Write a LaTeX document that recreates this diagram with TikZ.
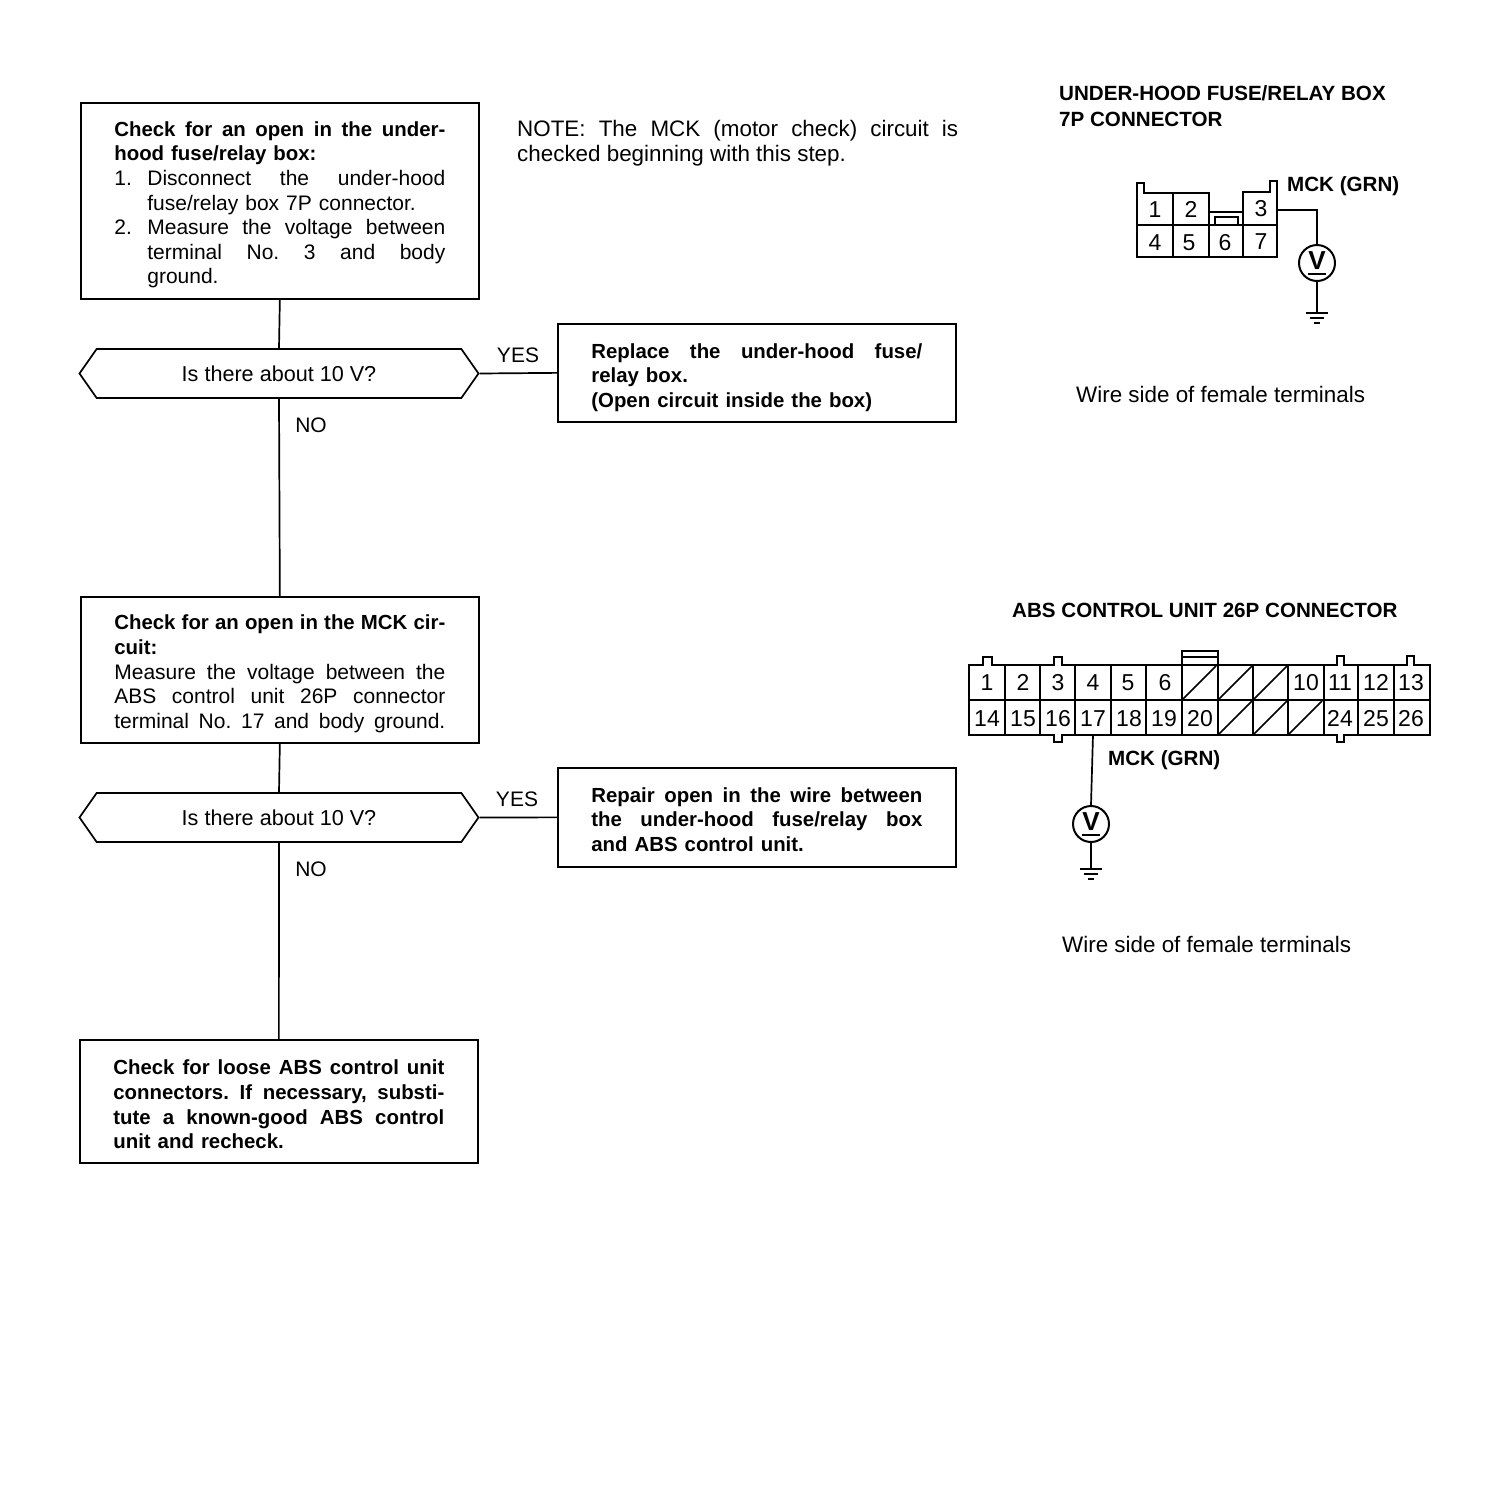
\documentclass[tikz,border=0pt]{standalone}
\usepackage{fontspec}
\setmainfont{Liberation Sans}
\usetikzlibrary{shapes.symbols}
\frenchspacing
\newcommand{\fs}{\fontsize{21}{24.6}\selectfont}
\newcommand{\bfs}{\fontsize{20.4}{24.6}\selectfont\bfseries}
\newcommand{\jl}[2]{\makebox[#1pt][s]{\spaceskip=0pt\xspaceskip=0pt\relax #2}}
\newcommand{\tp}[1]{\rule{0pt}{#1pt}}
\tikzset{
  ln/.style={line width=1.7pt},
  box/.style={draw,line width=1.7pt,anchor=north west,inner xsep=33.5pt,inner ysep=0pt,text width=331pt,align=left,font=\fs},
  dec/.style={draw,line width=1.7pt,signal,signal to=east and west,signal pointer angle=110,minimum width=399pt,minimum height=49pt,inner sep=0pt,font=\fontsize{21.6}{24.6}\selectfont},
  lab/.style={font=\fs,inner sep=0pt},
  wlab/.style={font=\fontsize{22.4}{24.6}\selectfont,inner sep=0pt},
  blab/.style={font=\fontsize{20.6}{24.6}\selectfont\bfseries,inner sep=0pt},
  pin/.style={font=\fontsize{23}{24}\selectfont,inner sep=0pt,text height=16pt,text depth=0pt},
  vm/.style={circle,draw,line width=2pt,minimum size=36pt,inner sep=0pt},
  vt/.style={font=\fontsize{26}{26}\selectfont\bfseries,inner sep=0pt},
  wire/.style={line width=1.7pt},
  cn/.style={line width=2pt,line join=miter},
  cnt/.style={line width=1.5pt}
}
\begin{document}
\begin{tikzpicture}[x=1pt,y=-1pt]
\useasboundingbox (0,0) rectangle (1504,1508);
% flowchart boxes
\node[box,minimum height=196pt] (b1) at (80,102) {\tp{23}{\bfs\jl{331}{Check for an open in the under-}\\hood fuse/relay box:}\\
\makebox[33pt][l]{1.}\jl{298}{Disconnect the under-hood}\\
\makebox[33pt][l]{}fuse/relay box 7P connector.\\
\makebox[33pt][l]{2.}\jl{298}{Measure the voltage between}\\
\makebox[33pt][l]{}\jl{298}{terminal No. 3 and body}\\
\makebox[33pt][l]{}ground.};
\node[dec] (d1) at (279,373.5) {Is there about 10 V?};
\node[box,minimum height=98pt] (y1) at (557,323) {\tp{24}{\bfs\jl{331}{Replace the under-hood fuse/}\\relay box.\\(Open circuit inside the box)}};
\node[box,minimum height=146pt] (b2) at (80,596) {\tp{23}{\bfs\jl{331}{Check for an open in the MCK cir-}\\cuit:}\\
\jl{331}{Measure the voltage between the}\\
\jl{331}{ABS control unit 26P connector}\\
\jl{331}{terminal No. 17 and body ground.}};
\node[dec] (d2) at (279,817.5) {Is there about 10 V?};
\node[box,minimum height=99pt] (y2) at (557,767) {\tp{19}{\bfs\jl{331}{Repair open in the wire between}\\\jl{331}{the under-hood fuse/relay box}\\and ABS control unit.}};
\node[box,minimum height=123pt] (b3) at (79,1039) {\tp{21}{\bfs\jl{331}{Check for loose ABS control unit}\\\jl{331}{connectors. If necessary, substi-}\\\jl{331}{tute a known-good ABS control}\\unit and recheck.}};
% connectors
\draw[ln] (b1.south) -- (d1.north);
\draw[ln] (d1.south) -- (b2.north);
\draw[ln] (d1.east) -- (y1.west);
\draw[ln] (b2.south) -- (d2.north);
\draw[ln] (d2.south) -- (b3.north);
\draw[ln] (d2.east) -- (y2.west);
% connector labels
\node[lab] (yes1) at (518,355.5) {YES};
\node[lab] (no1) at (311,425) {NO};
\node[lab] (yes2) at (517,799.5) {YES};
\node[lab] (no2) at (311,869) {NO};
% note
\node[wlab,anchor=west] (n1) at (517,131) {\jl{441}{NOTE: The MCK (motor check) circuit is}};
\node[wlab,anchor=west] (n2) at (517,156) {checked beginning with this step.};
% 7P header
\node[blab,anchor=west] (h1) at (1059,93) {UNDER-HOOD FUSE/RELAY BOX};
\node[blab,anchor=west] (h2) at (1059,119) {7P CONNECTOR};
\node[blab,anchor=west] (m1) at (1287,186) {MCK (GRN)};
\node[wlab,anchor=west] (w1) at (1076,394) {Wire side of female terminals};
% 7P connector
\draw[cn] (1137,257) -- (1137,183) -- (1144,183) -- (1144,193) -- (1209,193) -- (1209,212) -- (1243,212) -- (1243,192) -- (1270,192) -- (1270,181) -- (1277,181) -- (1277,257) -- cycle;
\draw[cn] (1137,225) -- (1277,225);
\draw[cnt] (1173,193) -- (1173,257);
\draw[cnt] (1209,212) -- (1209,257);
\draw[cn] (1243,212) -- (1243,257);
\draw[cnt] (1215,225) -- (1215,217) -- (1238,217) -- (1238,225);
\foreach \t/\x/\y in {1/1155/209,2/1191/209,3/1261/208,4/1155/242,5/1189/242,6/1225/242,7/1261/241}
  \node[pin] (p\t) at (\x,\y) {\t};
\coordinate (c3) at (1277,210);
\node[vm] (v1) at (1317,263) {};
\node[vt] (v1t) at (1317,261) {V};
\draw[line width=1.7pt] (1308,274) -- (1326,274);
\draw[wire] (c3) -| (v1.north);
\coordinate (g1) at (1317,313);
\draw[wire] (v1.south) -- (g1);
\draw[wire] (1306,313) -- (1328,313) (1310,318) -- (1324,318) (1314,323) -- (1320,323);
% 26P header
\node[blab,anchor=west] (h3) at (1012,610) {ABS CONTROL UNIT 26P CONNECTOR};
\node[blab,anchor=west] (m2) at (1108,760) {MCK (GRN)};
\node[wlab,anchor=west] (w2) at (1062,944) {Wire side of female terminals};
% 26P connector
\draw[cn] (969,735) -- (969,665) -- (983,665) -- (983,657) -- (992,657) -- (992,665)
  -- (1054,665) -- (1054,657) -- (1062,657) -- (1062,665)
  -- (1337,665) -- (1337,656) -- (1344,656) -- (1344,665)
  -- (1407,665) -- (1407,656) -- (1414,656) -- (1414,665)
  -- (1430,665) -- (1430,735)
  -- (1344,735) -- (1344,742) -- (1337,742) -- (1337,735)
  -- (1062,735) -- (1062,742) -- (1054,742) -- (1054,735) -- cycle;
\draw[cn] (969,700) -- (1430,700);
\foreach \x in {1005,1040,1075,1111,1146,1182,1218,1253,1288,1324,1358,1394}
  \draw[cnt] (\x,665) -- (\x,735);
\draw[cn] (1182,665) -- (1182,651) -- (1218,651) -- (1218,665);
\draw[cn] (1182,657) -- (1218,657);
\foreach \x in {1182,1218,1253}
  \draw[cnt] (\x+1,699) -- (\x+34,666);
\foreach \x in {1218,1253,1288}
  \draw[cnt] (\x+1,734) -- (\x+34,701);
\foreach \t/\x in {1/987,2/1023,3/1058,4/1093,5/1128,6/1165,10/1306,11/1340,12/1376,13/1411}
  \node[pin] (q\t) at (\x,682) {\t};
\foreach \t/\x in {14/987,15/1023,16/1058,17/1093,18/1129,19/1164,20/1200,24/1340,25/1376,26/1411}
  \node[pin] (q\t) at (\x,718) {\t};
\coordinate (c17) at (1093,735);
\node[vm] (v2) at (1091,824) {};
\node[vt] (v2t) at (1091,822) {V};
\draw[line width=1.7pt] (1082,835) -- (1100,835);
\draw[wire] (c17) -- (v2.north);
\coordinate (g2) at (1091,869);
\draw[wire] (v2.south) -- (g2);
\draw[wire] (1080,869) -- (1102,869) (1084,874) -- (1098,874) (1088,879) -- (1094,879);
\end{tikzpicture}
\end{document}
